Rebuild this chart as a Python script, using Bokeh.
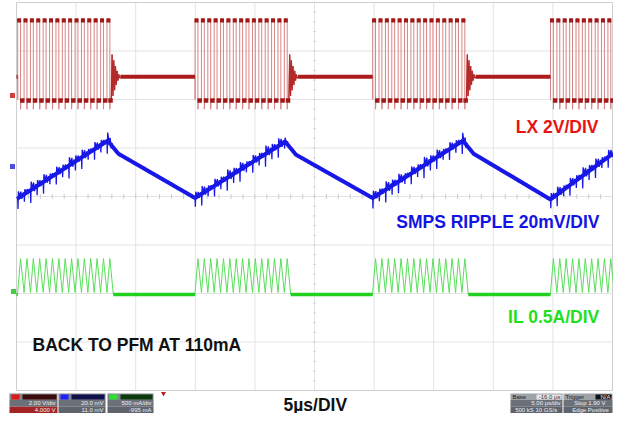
import numpy as np
from bokeh.plotting import figure
from bokeh.models import Range1d
from bokeh.core.properties import value
from bokeh.embed import file_html
from bokeh.resources import INLINE

# ---------------- values read from the capture ----------------
# time in µs from the left graticule edge (5 µs/div, 10 div); levels in divisions
TIME_DIV = [0, 5, 10, 15, 20, 25, 30, 35, 40, 45, 50]
LEVEL_DIV = [-4, -3, -2, -1, 0, 1, 2, 3, 4]

BURST_START = [0.10, 14.98, 29.88, 44.80]
BURST_END = [7.95, 22.85, 37.75, 50.50]
SW_PERIOD = 0.535
SW_DUTY = 0.45

# CH1 LX
LX_HIGH = 3.67
LX_LOW = 2.00
LX_IDLE = 2.47
LX_UNDERSHOOT = 0.20
LX_RING = [-0.50, 0.46, -0.40, 0.34, -0.28, 0.22, -0.17, 0.12, -0.08, 0.05, -0.03, 0.0]
LX_RING_STEP = 0.07

# CH2 SMPS ripple: envelope key points
RIPPLE_T = [0.05, 7.65, 8.55, 14.98, 22.55, 23.45, 29.88, 37.45, 38.35, 44.80, 50.00]
RIPPLE_V = [-0.05, 1.15, 0.88, -0.03, 1.13, 0.86, -0.03, 1.15, 0.88, -0.06, 0.88]
SPIKE_F = [0.00, 0.05, 0.11, 0.32, 0.50, 0.64, 0.84]
SPIKE_DV = [0.00, -0.22, 0.14, 0.02, 0.10, -0.06, 0.05]
SPIKE_GAIN = [1.0, 0.7, 1.2, 0.85, 1.1, 0.6]
WIGGLE = [0.03, -0.02, 0.035, -0.03, 0.015, -0.035, 0.025, -0.01]
WIGGLE_STEP = 0.15

# CH3 IL
IL_ZERO = -2.02
IL_VALLEY = -1.98
IL_PEAK = -1.28

LABELS = ["LX 2V/DIV", "SMPS RIPPLE 20mV/DIV", "IL 0.5A/DIV",
          "BACK TO PFM AT 110mA", "5µs/DIV"]
CH_SCALE = ["2.00 V/div", "20.0 mV", "500 mA/div"]
CH_OFFSET = ["4.000 V", "11.0 mV", "-995 mA"]
TB_TEXT = ["Base", "-16.0 µs", "5.00 µs/div", "500 kS   10 GS/s"]
TRIG_TEXT = ["Trigger", "N/A", "Stop    1.90 V", "Edge  Positive"]

# ---------------- figure / pixel helpers ----------------
W, H = 613, 413
GX0, GX1, GY0, GY1 = 16, 612, 2, 390      # graticule box in canvas pixels
PXU = (GX1 - GX0) / 50.0
PYD = (GY1 - GY0) / 8.0


def px(x):
    return (x - GX0) / PXU


def py(y):
    return 4 - (y - GY0) / PYD


p = figure(width=W, height=H, x_range=Range1d(px(0), px(W)),
           y_range=Range1d(py(H), py(0)),
           output_backend="svg", toolbar_location=None, min_border=0,
           x_axis_location=None, y_axis_location=None,
           background_fill_color="white", border_fill_color="white",
           outline_line_color=None)
p.grid.visible = False

# graticule
inner_t = TIME_DIV[1:-1]
inner_v = LEVEL_DIV[1:-1]
p.segment(x0=inner_t, y0=-4, x1=inner_t, y1=4, line_color="#e3e3e3", line_width=1)
p.segment(x0=0, y0=inner_v, x1=50, y1=inner_v, line_color="#e3e3e3", line_width=1)
p.segment(x0=[TIME_DIV[0], TIME_DIV[-1], 0, 0], y0=[-4, -4, LEVEL_DIV[0], LEVEL_DIV[-1]],
          x1=[TIME_DIV[0], TIME_DIV[-1], 50, 50], y1=[4, 4, LEVEL_DIV[0], LEVEL_DIV[-1]],
          line_color="#cfcfcf", line_width=1)
mt = np.arange(0, 50.01, 1.0)
p.segment(x0=mt, y0=-0.05, x1=mt, y1=0.05, line_color="#cccccc")
mv = np.arange(-4, 4.01, 0.2)
p.segment(x0=24.9, y0=mv, x1=25.1, y1=mv, line_color="#cccccc")


def pulses(s, e):
    out = []
    t = s
    while t + SW_DUTY * SW_PERIOD < e - 0.05:
        out.append(t)
        t += SW_PERIOD
    return out


# ---------------- CH1 LX ----------------
lx_x, lx_y = [0.0], [LX_IDLE]
cap_x, low_x = [], []
ring_xs, ring_ys = [], []
idle_x0, idle_x1 = [0.0], [BURST_START[0]]
for i, (s, e) in enumerate(zip(BURST_START, BURST_END)):
    ps = pulses(s, e)
    lx_x.append(s)
    lx_y.append(LX_IDLE)
    for k, t in enumerate(ps):
        toff = t + SW_DUTY * SW_PERIOD
        tnext = ps[k + 1] if k + 1 < len(ps) else e
        lx_x += [t, t, toff, toff, toff + 0.03, tnext]
        lx_y += [LX_LOW, LX_HIGH, LX_HIGH, LX_LOW - LX_UNDERSHOOT, LX_LOW, LX_LOW]
        cap_x.append((t + toff) / 2)
        low_x.append((toff + tnext) / 2)
    if i + 1 < len(BURST_START):
        rx = [e + j * LX_RING_STEP for j in range(len(LX_RING))]
        ry = [LX_IDLE + a for a in LX_RING]
        ring_xs.append(rx)
        ring_ys.append(ry)
        lx_x += rx
        lx_y += ry
        idle_x0.append(rx[-1])
        idle_x1.append(BURST_START[i + 1])
        lx_x.append(BURST_START[i + 1])
        lx_y.append(LX_IDLE)

p.line(lx_x, lx_y, line_color="#d98585", line_width=1)
p.multi_line(ring_xs, ring_ys, line_color="#b42a2a", line_width=1.3)
p.scatter(x=cap_x, y=LX_HIGH - 0.04, marker="square", size=4,
          fill_color="#a01818", line_color=None)
p.scatter(x=low_x, y=LX_LOW - 0.02, marker="square", size=4.5,
          fill_color="#a01818", line_color=None)
p.segment(x0=idle_x0, y0=LX_IDLE, x1=idle_x1, y1=LX_IDLE,
          line_color="#ad1c1c", line_width=4)

# ---------------- CH2 ripple ----------------
def env(t):
    return float(np.interp(t, RIPPLE_T, RIPPLE_V))


b_x, b_y = [], []
c = 0
for i, (s, e) in enumerate(zip(BURST_START, BURST_END)):
    for t in pulses(s, e):
        g = SPIKE_GAIN[c % len(SPIKE_GAIN)]
        c += 1
        for f, dv in zip(SPIKE_F, SPIKE_DV):
            tt = t + f * SW_PERIOD
            b_x.append(tt)
            b_y.append(env(tt) + dv * g)
    if i + 1 < len(BURST_START):
        k = 0
        tt = e
        while tt < BURST_START[i + 1]:
            b_x.append(tt)
            b_y.append(env(tt) + WIGGLE[k % len(WIGGLE)])
            tt += WIGGLE_STEP
            k += 1

p.line(RIPPLE_T, RIPPLE_V, line_color="#1818e6", line_width=4)
p.line(b_x, b_y, line_color="#1818e6", line_width=1.3)

# ---------------- CH3 IL ----------------
g_x, g_y = [0.0], [IL_ZERO]
gi_x0, gi_x1 = [0.0], [BURST_START[0]]
for i, (s, e) in enumerate(zip(BURST_START, BURST_END)):
    ps = pulses(s, e)
    g_x.append(s)
    g_y.append(IL_ZERO)
    for k, t in enumerate(ps):
        last = k + 1 == len(ps)
        g_x += [t, t + SW_DUTY * SW_PERIOD, t + SW_PERIOD]
        g_y += [IL_VALLEY, IL_PEAK, IL_ZERO if last else IL_VALLEY]
    if i + 1 < len(BURST_START):
        gi_x0.append(ps[-1] + SW_PERIOD)
        gi_x1.append(BURST_START[i + 1])

p.line(g_x, g_y, line_color="#5ade5a", line_width=1)
p.segment(x0=gi_x0, y0=IL_ZERO, x1=gi_x1, y1=IL_ZERO, line_color="#22d022", line_width=3.5)

# ---------------- channel / trigger markers ----------------
p.scatter(x=[px(12), px(12), px(13)], y=[py(95), py(166), py(291)], marker="square",
          size=5, fill_color=["#d04040", "#5050e0", "#40d040"], line_color=None)
p.scatter(x=[px(163)], y=[py(393)], marker="inverted_triangle", size=5,
          fill_color="#c02020", line_color=None)

# ---------------- labels ----------------
FONT = value("Liberation Sans")
p.text(x=[px(598), px(599), px(599)], y=[py(126), py(221), py(316)], text=LABELS[:3],
       text_color=["#ea1212", "#1414e4", "#1ee01e"], text_font=FONT,
       text_font_style="bold", text_font_size=value("17.5px"),
       text_align="right", text_baseline="middle")
p.text(x=[px(32), px(283)], y=[py(344), py(404)], text=LABELS[3:],
       text_color="#111111", text_font=FONT, text_font_style="bold",
       text_font_size=value("17.5px"), text_align="left", text_baseline="middle")

# ---------------- scope info panels ----------------
def box(x0, x1, y0, y1, color):
    p.quad(left=px(x0), right=px(x1), top=py(y0), bottom=py(y1),
           fill_color=color, line_color=None)


Y0, Y1, Y2, Y3 = 393, 399.5, 406.3, 413
ch_cols = [("#e01818", "#3c0c0c", "#a42424"), ("#2020ff", "#10104a", "#5f636c"),
           ("#30e030", "#0c3a0c", "#5f636c")]
ch_x = [(9, 57), (58, 105), (107, 153)]
for (x0, x1), (sq, dk, low), sc, off in zip(ch_x, ch_cols, CH_SCALE, CH_OFFSET):
    box(x0, x1, Y0, Y1, "#80848c")
    box(x0 + 2, x0 + 10, Y0 + 1, Y1 - 0.5, sq)
    box(x0 + 13, x1 - 1, Y0 + 1, Y1 - 0.5, dk)
    box(x0, x1, Y1, Y2, "#6c7079")
    box(x0, x1, Y2, Y3, low)
    p.text(x=[px(x1 - 2)] * 2, y=[py((Y1 + Y2) / 2), py((Y2 + Y3) / 2)], text=[sc, off],
           text_color="#f0f0f0", text_font=FONT, text_font_size=value("6px"),
           text_align="right", text_baseline="middle")

RX = 510
box(RX, RX + 52, Y0, Y1, "#9da1a8")
box(RX + 26, RX + 51, Y0 + 1, Y1 - 0.5, "#e6e6e6")
box(RX, RX + 52, Y1, Y2, "#6c7079")
box(RX, RX + 52, Y2, Y3, "#5f636c")
box(RX + 53, RX + 102, Y0, Y1, "#9da1a8")
box(RX + 85, RX + 101, Y0 + 1, Y1 - 0.5, "#111111")
box(RX + 53, RX + 102, Y1, Y2, "#6c7079")
box(RX + 53, RX + 102, Y2, Y3, "#5f636c")
p.text(x=[px(RX + 2), px(RX + 50), px(RX + 50), px(RX + 50)],
       y=[py((Y0 + Y1) / 2), py((Y0 + Y1) / 2), py((Y1 + Y2) / 2), py((Y2 + Y3) / 2)],
       text=TB_TEXT, text_color=["#222222", "#333333", "#f0f0f0", "#f0f0f0"],
       text_font=FONT, text_font_size=value("6px"),
       text_align=["left", "right", "right", "right"], text_baseline="middle")
p.text(x=[px(RX + 55), px(RX + 100), px(RX + 100), px(RX + 100)],
       y=[py((Y0 + Y1) / 2), py((Y0 + Y1) / 2), py((Y1 + Y2) / 2), py((Y2 + Y3) / 2)],
       text=TRIG_TEXT, text_color=["#222222", "#f0f0f0", "#f0f0f0", "#f0f0f0"],
       text_font=FONT, text_font_size=value("6px"),
       text_align=["left", "right", "right", "right"], text_baseline="middle")

open("out.html", "w").write(file_html(p, INLINE))
